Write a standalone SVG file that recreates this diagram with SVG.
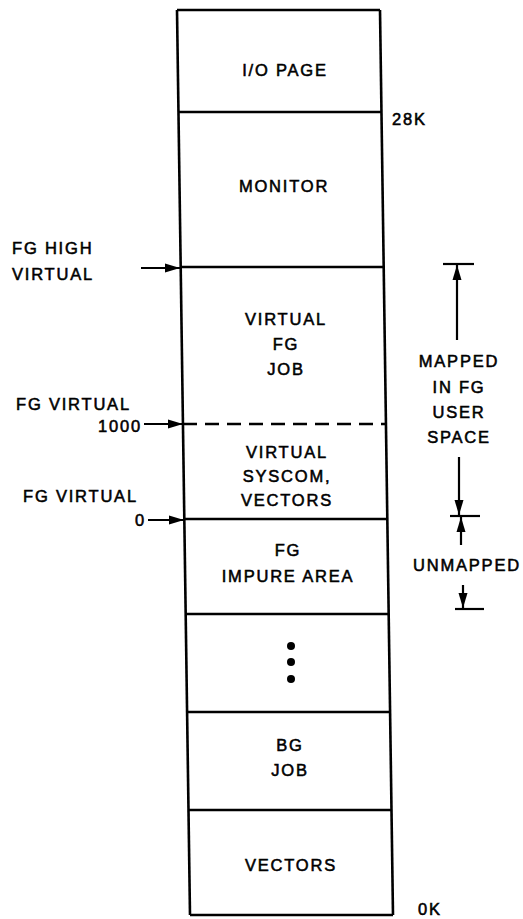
<svg xmlns="http://www.w3.org/2000/svg" width="523" height="919" viewBox="0 0 523 919">
<style>
text{font-family:"Liberation Sans",Arial,sans-serif;font-size:16.5px;letter-spacing:1.8px;fill:#000;stroke:#000;stroke-width:0.55}
.c{text-anchor:middle}
.e{text-anchor:end}
.ln{stroke:#000;stroke-width:2.6;fill:none}
.thin{stroke:#000;stroke-width:2.2;fill:none}
</style>
<defs>
<marker id="ah" markerWidth="16" markerHeight="12" refX="15" refY="6" orient="auto" markerUnits="userSpaceOnUse">
<path d="M0,1.5 L15,6 L0,10.5 Z" fill="#000"/>
</marker>
</defs>
<rect width="523" height="919" fill="#fff"/>
<g id="memory">
<line class="ln" x1="177" y1="10" x2="190" y2="915"/>
<line class="ln" x1="380" y1="10" x2="393" y2="915"/>
<line class="ln" x1="177" y1="10" x2="380" y2="10"/>
<line class="ln" x1="190" y1="915" x2="393" y2="915"/>
</g>
<g id="io-page">
<line class="ln" x1="178.5" y1="112" x2="381.5" y2="112"/>
<text class="c" x="285" y="76">I/O PAGE</text>
<text x="392" y="125">28K</text>
</g>
<g id="monitor">
<line class="ln" x1="180.7" y1="267" x2="383.7" y2="267"/>
<text class="c" x="284" y="192">MONITOR</text>
</g>
<g id="virtual-fg-job">
<line class="ln" x1="183" y1="424" x2="386" y2="424" stroke-dasharray="14,8"/>
<text class="c" x="286" y="325">VIRTUAL</text>
<text class="c" x="286" y="350">FG</text>
<text class="c" x="286" y="375">JOB</text>
</g>
<g id="virtual-syscom">
<line class="ln" x1="184.3" y1="519" x2="387.3" y2="519"/>
<text class="c" x="287" y="458">VIRTUAL</text>
<text class="c" x="287" y="482">SYSCOM,</text>
<text class="c" x="287" y="506">VECTORS</text>
</g>
<g id="fg-impure">
<line class="ln" x1="185.7" y1="614" x2="388.7" y2="614"/>
<text class="c" x="288" y="556">FG</text>
<text class="c" x="288" y="582">IMPURE AREA</text>
</g>
<g id="ellipsis">
<line class="ln" x1="187.1" y1="712" x2="390.1" y2="712"/>
<circle cx="291" cy="646" r="4"/>
<circle cx="291" cy="662" r="4"/>
<circle cx="291" cy="679" r="4"/>
</g>
<g id="bg-job">
<line class="ln" x1="188.5" y1="810" x2="391.5" y2="810"/>
<text class="c" x="290" y="751">BG</text>
<text class="c" x="290" y="776">JOB</text>
</g>
<g id="vectors">
<text class="c" x="291" y="871">VECTORS</text>
<text x="418" y="915">0K</text>
</g>
<g id="left-labels">
<text x="12" y="254">FG HIGH</text>
<text x="12" y="280">VIRTUAL</text>
<text x="16" y="410">FG VIRTUAL</text>
<text class="e" x="142" y="432">1000</text>
<text x="23" y="502">FG VIRTUAL</text>
<text class="e" x="146" y="526">0</text>
</g>
<g id="right-labels">
<text class="c" x="459" y="367">MAPPED</text>
<text class="c" x="459" y="393">IN FG</text>
<text class="c" x="459" y="418">USER</text>
<text class="c" x="459" y="443">SPACE</text>
<text class="c" x="467" y="571">UNMAPPED</text>
</g>
<g id="connectors">
<line class="thin" x1="141" y1="268" x2="180" y2="268" marker-end="url(#ah)"/>
<line class="thin" x1="144" y1="424" x2="183" y2="424" marker-end="url(#ah)"/>
<line class="thin" x1="148" y1="520" x2="184" y2="520" marker-end="url(#ah)"/>
<line class="thin" x1="443" y1="264" x2="474" y2="264"/>
<line class="thin" x1="457" y1="340" x2="457" y2="265" marker-end="url(#ah)"/>
<line class="thin" x1="459" y1="457" x2="459" y2="515" marker-end="url(#ah)"/>
<line class="thin" x1="450" y1="516" x2="480" y2="516"/>
<line class="thin" x1="461" y1="545" x2="461" y2="517" marker-end="url(#ah)"/>
<line class="thin" x1="463" y1="585" x2="463" y2="608" marker-end="url(#ah)"/>
<line class="thin" x1="455" y1="609" x2="484" y2="609"/>
</g>
</svg>
